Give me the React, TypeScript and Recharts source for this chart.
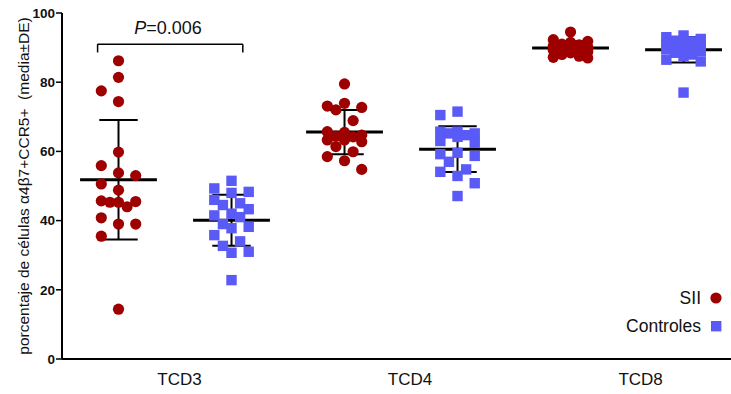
import React from 'react';
import { ScatterChart, Scatter, XAxis, YAxis, ReferenceLine } from 'recharts';

const CATEGORIES = ['TCD3', 'TCD4', 'TCD8'];
const SERIES = ['SII', 'Controles'];
const Y_TICKS = [0, 20, 40, 60, 80, 100];

// porcentaje por paciente
const SII_TCD3 = [86.2, 81.4, 77.5, 74.4, 59.8, 55.9, 53.8, 53.0, 50.6, 48.8, 45.7, 45.5, 45.3, 45.3, 44.0, 40.8, 39.0, 39.0, 35.5, 14.4];
const CTRL_TCD3 = [51.5, 49.3, 48.3, 48.0, 46.0, 45.0, 44.5, 43.3, 42.0, 41.5, 41.0, 39.0, 38.2, 37.8, 35.8, 34.0, 32.7, 31.0, 30.7, 22.8];
const SII_TCD4 = [79.5, 73.9, 73.1, 72.7, 72.0, 68.9, 65.7, 65.5, 64.7, 64.4, 64.2, 63.3, 63.3, 62.8, 61.4, 59.9, 58.5, 57.3, 54.8];
const CTRL_TCD4 = [71.5, 70.5, 65.7, 65.7, 65.2, 65.2, 64.7, 64.2, 63.0, 62.5, 59.6, 59.2, 58.7, 57.0, 54.8, 54.1, 52.9, 50.8, 47.1];
const SII_TCD8 = [94.5, 92.3, 91.8, 91.5, 91.0, 90.8, 90.5, 90.2, 90.0, 89.8, 89.5, 89.2, 88.8, 88.5, 88.0, 87.5, 87.2, 87.0];
const CTRL_TCD8 = [93.5, 93.0, 92.5, 92.0, 91.8, 91.5, 91.0, 90.8, 90.5, 90.0, 89.8, 89.5, 89.0, 88.5, 88.0, 87.5, 86.5, 86.0, 77.0];

const P_TEXT = '0.006';

const RED = '#9e0000';
const BLUE = '#5a5af6';
const FONT = '"Liberation Sans", Arial, sans-serif';

const W = 731;
const H = 394;
const PX_X = 113; // px por unidad en x
const PX_Y = 3.46; // px por unidad en y

// columnas tipo Prism: 5 posiciones como máximo, se elige la que menos choca
function swarm(values: number[], center: number) {
  const placed: { x: number; y: number }[] = [];
  const step = 8.6;
  const slots = [0, -2, 2, -1, 1];
  values.forEach((v) => {
    let best = 0;
    let bestD = -1;
    for (const s of slots) {
      const off = s * step;
      const d = Math.min(Infinity, ...placed.map((p) => Math.hypot((p.x - center) * PX_X - off, (p.y - v) * PX_Y)));
      if (d >= 15) { best = off; bestD = d; break; }
      if (d > bestD + 0.01) { best = off; bestD = d; }
    }
    placed.push({ x: center + best / PX_X, y: v });
  });
  return placed;
}

const stats = (a: number[]) => {
  const m = a.reduce((s, v) => s + v, 0) / a.length;
  const sd = Math.sqrt(a.reduce((s, v) => s + (v - m) ** 2, 0) / (a.length - 1));
  return { m, sd };
};

const groups = [
  { series: 0, values: SII_TCD3 }, { series: 1, values: CTRL_TCD3 },
  { series: 0, values: SII_TCD4 }, { series: 1, values: CTRL_TCD4 },
  { series: 0, values: SII_TCD8 }, { series: 1, values: CTRL_TCD8 },
].map((g, i) => ({ ...g, pos: i + 1, points: swarm(g.values, i + 1), ...stats(g.values) }));

const siiPoints = groups.filter(g => g.series === 0).flatMap(g => g.points);
const ctrlPoints = groups.filter(g => g.series === 1).flatMap(g => g.points);

const Dot = (p: any) => <circle cx={p.cx} cy={p.cy} r={5.6} fill={RED} />;
const Sq = (p: any) => <rect x={p.cx - 5.2} y={p.cy - 5.2} width={10.4} height={10.4} fill={BLUE} />;

const LegendBox = () => (
  <div style={{ position: 'absolute', top: 284, right: 4, fontFamily: FONT, fontSize: 17.5, color: '#111', lineHeight: '28px' }}>
    {SERIES.map((s, i) => (
      <div key={s} style={{ display: 'flex', justifyContent: 'flex-end', alignItems: 'center' }}>
        <span>{s}</span>
        <svg width={24} height={14} style={{ marginLeft: 2 }}>
          {i === 0 ? <circle cx={13} cy={7} r={5.6} fill={RED} /> : <rect x={8} y={2} width={10.4} height={10.4} fill={BLUE} />}
        </svg>
      </div>
    ))}
  </div>
);

export default function App() {
  const half = 0.34;
  const cap = 0.17;
  return (
    <div style={{ position: 'absolute', left: 0, top: 0, width: W, height: H, background: '#fff' }}>
      <ScatterChart width={W} height={H} margin={{ top: 13, right: 0, bottom: 0, left: 0 }}>
        <XAxis type="number" dataKey="x" domain={[0.5, 6.42]} ticks={[1.54, 3.58, 5.62]} allowDataOverflow
          tickFormatter={(v: number) => CATEGORIES[Math.round((v - 1.5) / 2)]}
          height={35} tickLine={false} tickSize={0} tickMargin={14}
          axisLine={{ stroke: '#000', strokeWidth: 2 }}
          tick={{ fontSize: 17, fill: '#111', fontFamily: FONT }} />
        <YAxis type="number" dataKey="y" domain={[0, 100]} ticks={Y_TICKS} width={62}
          tickSize={6} tickMargin={1}
          axisLine={{ stroke: '#000', strokeWidth: 2 }} tickLine={{ stroke: '#000', strokeWidth: 1.5 }}
          tick={{ fontSize: 13.5, fontWeight: 'bold', fill: '#111', fontFamily: FONT }} />
        <Scatter name={SERIES[0]} data={siiPoints} shape={Dot} isAnimationActive={false} />
        <Scatter name={SERIES[1]} data={ctrlPoints} shape={Sq} isAnimationActive={false} />
        {groups.map(g => (
          <ReferenceLine key={'m' + g.pos} segment={[{ x: g.pos - half, y: g.m }, { x: g.pos + half, y: g.m }]}
            stroke="#000" strokeWidth={3} ifOverflow="visible" />
        ))}
        {groups.map(g => (
          <ReferenceLine key={'v' + g.pos} segment={[{ x: g.pos, y: g.m - g.sd }, { x: g.pos, y: g.m + g.sd }]}
            stroke="#000" strokeWidth={2} ifOverflow="visible" />
        ))}
        {groups.flatMap(g => [g.m - g.sd, g.m + g.sd].map((y, j) => (
          <ReferenceLine key={'c' + g.pos + j} segment={[{ x: g.pos - cap, y }, { x: g.pos + cap, y }]}
            stroke="#000" strokeWidth={2} ifOverflow="visible" />
        )))}
        <ReferenceLine segment={[{ x: 0.815, y: 91 }, { x: 2.1, y: 91 }]} stroke="#000" strokeWidth={1.5} ifOverflow="visible" />
        <ReferenceLine segment={[{ x: 0.815, y: 88.6 }, { x: 0.815, y: 91 }]} stroke="#000" strokeWidth={1.5} ifOverflow="visible" />
        <ReferenceLine segment={[{ x: 2.1, y: 88.6 }, { x: 2.1, y: 91 }]} stroke="#000" strokeWidth={1.5} ifOverflow="visible" />
      </ScatterChart>
      <LegendBox />
      <svg width={W} height={H} style={{ position: 'absolute', left: 0, top: 0, pointerEvents: 'none' }}>
        <text x={168} y={34} textAnchor="middle" fontFamily={FONT} fontSize={18} fill="#111">
          <tspan fontStyle="italic">P</tspan>={P_TEXT}
        </text>
        <text transform="translate(29,186) rotate(-90)" textAnchor="middle" fontFamily={FONT} fontSize={15.5} fill="#111"
          style={{ whiteSpace: 'pre' }}>
          {'porcentaje de células α4β7+CCR5+\u00a0\u00a0(media±DE)'}
        </text>
      </svg>
    </div>
  );
}
